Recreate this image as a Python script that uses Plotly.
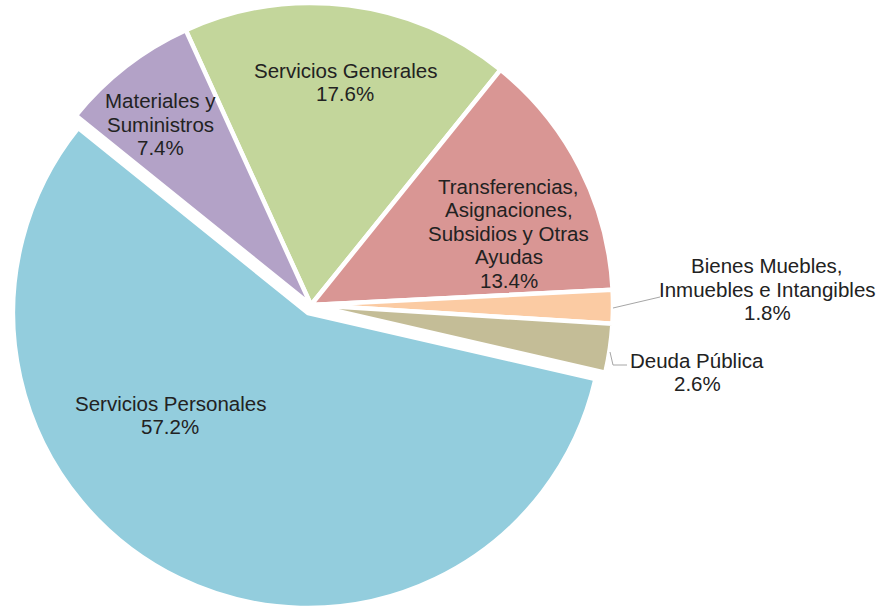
import plotly.graph_objects as go

W, H = 884, 608

categories = [
    "Servicios Generales",
    "Transferencias, Asignaciones, Subsidios y Otras Ayudas",
    "Bienes Muebles, Inmuebles e Intangibles",
    "Deuda Pública",
    "Servicios Personales",
    "Materiales y Suministros",
]
values = [17.6, 13.4, 1.8, 2.6, 57.2, 7.4]
label_text = [
    "Servicios Generales",
    "Transferencias,<br>Asignaciones,<br>Subsidios y Otras<br>Ayudas",
    "Bienes Muebles,<br>Inmuebles e Intangibles",
    "Deuda Pública",
    "Servicios Personales",
    "Materiales y<br>Suministros",
]

# styles / layout
colors = ["#C3D69B", "#D99694", "#FBCBA3", "#C4BD97", "#93CDDD", "#B3A2C7"]
exploded = [False, False, False, False, True, False]   # slice drawn offset
label_px = [(345, 82), (509, 233), (767, 289), (697, 372), (170, 415), (160, 124)]
LINE_W = 4.5
FONT_SIZE = 20.5
LINE_GAP = 23.5
TRANSPARENT = "rgba(0,0,0,0)"

# main pie (centre, radius) and offset pie for the exploded slice, in pixels
main_c, main_r = (311, 305), 302
expl_c, expl_r = (308, 313), 295


def px(x, y):
    return x / W, 1 - y / H


def domain(c, r):
    return dict(x=[(c[0] - r) / W, (c[0] + r) / W],
                y=[1 - (c[1] + r) / H, 1 - (c[1] - r) / H])


fig = go.Figure()
for show_exploded, c, r in [(False, main_c, main_r), (True, expl_c, expl_r)]:
    cols = [col if e == show_exploded else TRANSPARENT for col, e in zip(colors, exploded)]
    widths = [LINE_W if e == show_exploded else 0 for e in exploded]
    fig.add_trace(go.Pie(
        labels=categories,
        values=values,
        sort=False,
        direction="clockwise",
        rotation=-24.5,
        textinfo="none",
        hoverinfo="label+percent",
        marker=dict(colors=cols, line=dict(color="white", width=widths)),
        domain=domain(c, r),
        showlegend=False,
    ))

for txt, v, (lx, ly) in zip(label_text, values, label_px):
    lines = txt.split("<br>") + [f"{v:.1f}%"]
    n = len(lines)
    for i, line in enumerate(lines):
        yy = ly + (i - (n - 1) / 2) * LINE_GAP
        ax, ay = px(lx, yy)
        fig.add_annotation(
            x=ax, y=ay, xref="paper", yref="paper",
            text=line,
            showarrow=False, xanchor="center", yanchor="middle",
            font=dict(family="Liberation Sans, Arial, sans-serif", size=FONT_SIZE, color="#222222"),
        )

# leader lines
leaders = [
    [(613, 308), (660, 297)],
    [(610, 352), (613, 365), (627, 365)],
]
for pts in leaders:
    path = "M " + " L ".join(f"{px(x, y)[0]},{px(x, y)[1]}" for x, y in pts)
    fig.add_shape(type="path", path=path, xref="paper", yref="paper",
                  line=dict(color="#A6A6A6", width=1))

fig.update_layout(
    width=W, height=H,
    margin=dict(l=0, r=0, t=0, b=0),
    paper_bgcolor="white",
    plot_bgcolor="white",
)

fig.write_html("out.html", config={"displayModeBar": False},
               post_script="document.body.style.margin='0';")
